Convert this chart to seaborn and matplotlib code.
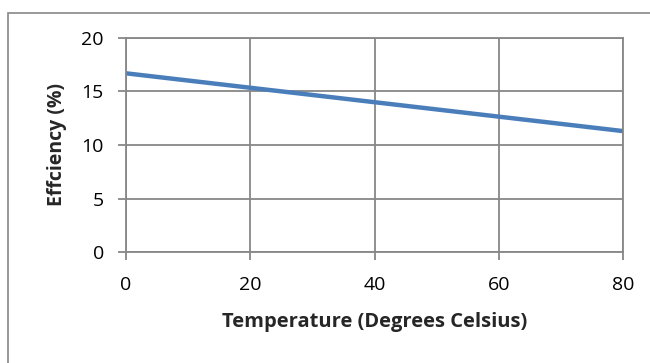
import matplotlib
matplotlib.use("Agg")
import matplotlib.pyplot as plt
import seaborn as sns
import pandas as pd
from matplotlib.patches import Rectangle

temperature = [0, 20, 40, 60, 80]
efficiency = [16.7, 15.35, 14.0, 12.65, 11.3]
x_ticks = [0, 20, 40, 60, 80]
y_ticks = [0, 5, 10, 15, 20]

sns.set_theme(style="white")
plt.rcParams['font.family'] = ['Open Sans', 'DejaVu Sans']

df = pd.DataFrame({"Temperature": temperature, "Efficiency": efficiency})

fig = plt.figure(figsize=(6.5, 3.63), dpi=100)
ax = fig.add_axes([126/650, 1-252/363, (623-126)/650, (252-38)/363])

grid_c = "#878787"
sns.lineplot(data=df, x="Temperature", y="Efficiency", ax=ax,
             color="#4a7ebb", linewidth=3.2, solid_capstyle="butt")

ax.set_xlim(0, 80)
ax.set_ylim(0, 20)
ax.set_xticks(x_ticks)
ax.set_yticks(y_ticks)
ax.grid(True, color=grid_c, linewidth=1.3)
for s in ax.spines.values():
    s.set_color(grid_c)
    s.set_linewidth(1.3)
ax.tick_params(axis="both", which="major", length=6, width=1.3, color=grid_c,
               labelsize=14, labelcolor="black", direction="out")
ax.tick_params(axis="x", pad=11, bottom=True)
ax.tick_params(axis="y", pad=10, left=True)
ax.set_xlabel("Temperature (Degrees Celsius)", fontsize=14.5, fontweight="bold", labelpad=13)
ax.set_ylabel("Effciency (%)", fontsize=14, fontweight="bold", labelpad=10)

fig.patches.append(Rectangle((7.5/650, -0.1), 1.2, (363-12.5)/363 + 0.1,
                             transform=fig.transFigure, fill=False,
                             edgecolor=grid_c, linewidth=1.2))

fig.savefig("out.png", dpi=100)
